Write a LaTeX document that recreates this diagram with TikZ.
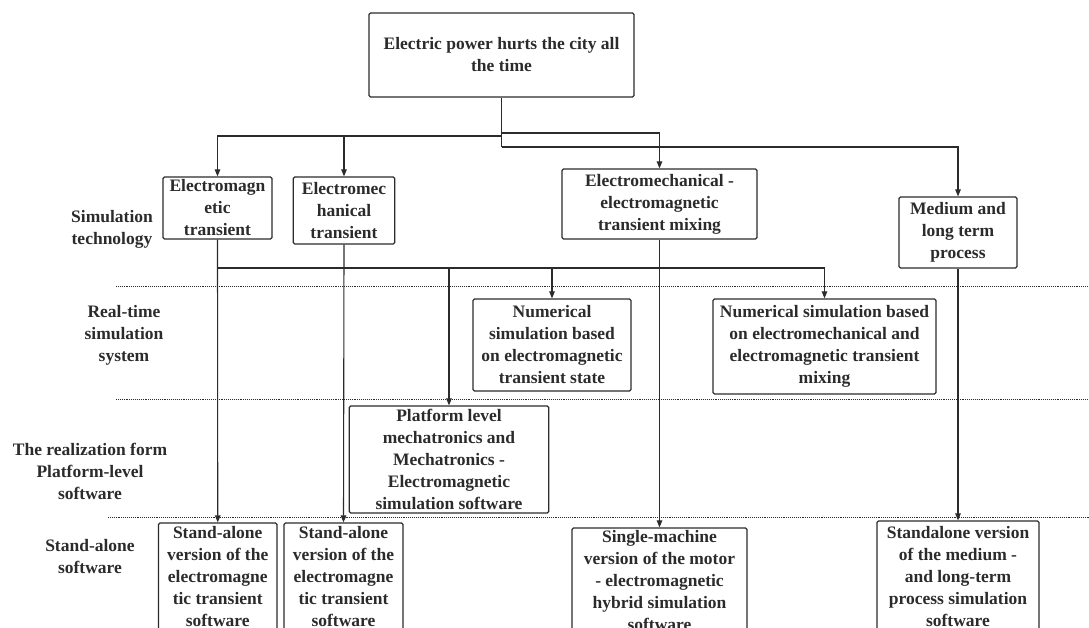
\documentclass[tikz,border=0pt]{standalone}
\usepackage{fontspec}
\setmainfont{Liberation Serif}
\usetikzlibrary{arrows.meta}
\definecolor{ink}{HTML}{2B2B2B}
\begin{document}
\begin{tikzpicture}[x=1pt,y=-1pt,
  box/.style={draw=ink, line width=1.2pt, rounded corners=1.5pt, inner sep=0pt, align=center,
    font=\bfseries\fontsize{17.5}{22}\selectfont, text=ink},
  lbl/.style={inner sep=0pt, align=center, font=\bfseries\fontsize{17.5}{22}\selectfont, text=ink},
  ln/.style={draw=ink, line width=1.1pt},
  arr/.style={ln, -{Triangle[length=7pt,width=5.5pt]}},
  sep/.style={draw=ink, line width=0.9pt, densely dotted}]
\useasboundingbox (0,0) rectangle (1089,628);
\clip (0,0) rectangle (1089,628);

% top
\node[box, minimum width=265pt, minimum height=84pt] (top) at (501.5,55) {Electric power hurts the city all\\the time};

% simulation technology
\node[box, minimum width=109pt, minimum height=62pt] (b1) at (217.5,208) {Electromagn\\etic\\transient};
\node[box, minimum width=101.5pt, minimum height=67pt] (b2) at (344,210.5) {Electromec\\hanical\\transient};
\node[box, minimum width=195pt, minimum height=70pt] (b3) at (659.5,204) {Electromechanical -\\electromagnetic\\transient mixing};
\node[box, minimum width=118pt, minimum height=71pt] (b4) at (958,232.5) {Medium and\\long term\\process};

% real-time
\node[box, minimum width=158pt, minimum height=92pt] (n1) at (552,345) {Numerical\\simulation based\\on electromagnetic\\transient state};
\node[box, minimum width=223pt, minimum height=95pt] (n2) at (824.5,346.5) {Numerical simulation based\\on electromechanical and\\electromagnetic transient\\mixing};

% platform
\node[box, minimum width=199.5pt, minimum height=107pt] (p) at (449,459.5) {Platform level\\mechatronics and\\Mechatronics -\\Electromagnetic\\simulation software};

% stand-alone
\node[box, minimum width=118.5pt, minimum height=107pt] (s1) at (217.75,576.5) {Stand-alone\\version of the\\electromagne\\tic transient\\software};
\node[box, minimum width=119pt, minimum height=107pt] (s2) at (343.5,576.5) {Stand-alone\\version of the\\electromagne\\tic transient\\software};
\node[box, minimum width=175pt, minimum height=106pt] (sm) at (659.5,581) {Single-machine\\version of the motor\\- electromagnetic\\hybrid simulation\\software};
\node[box, minimum width=162pt, minimum height=111pt] (sv) at (958,576.5) {Standalone version\\of the medium -\\and long-term\\process simulation\\software};

% row labels
\node[lbl] (l1) at (112,229) {Simulation\\technology};
\node[lbl] (l2) at (124,335) {Real-time\\simulation\\system};
\node[lbl] (l3) at (90,471) {The realization form\\Platform-level\\software};
\node[lbl] (l4) at (90,557) {Stand-alone\\software};

% separators
\draw[sep] (116,286) -- (1089,286);
\draw[sep] (116,399) -- (1089,399);
\draw[sep] (108,517) -- (1089,517);

% top connectors
\draw[ln] (top.south) -- (top.south |- 0,147);
\draw[arr] (top.south |- 0,136) -| (b1.north);
\draw[arr] (b2.north |- 0,136) -- (b2.north);
\draw[arr] (top.south |- 0,133) -| (b3.north);
\draw[arr] (top.south |- 0,147) -| (b4.north);

% down to stand-alone
\draw[arr] (b1.south) -- (s1.north);
\draw[arr] (b2.south) -- (s2.north);
\draw[arr] (b3.south) -- (sm.north);
\draw[arr] (b4.south) -- (sv.north);

% bus to real-time / platform
\draw[ln] (b1.south |- 0,268) -- (n2.north |- 0,268);
\draw[arr] (n1.north |- 0,268) -- (n1.north);
\draw[arr] (n2.north |- 0,268) -- (n2.north);
\draw[arr] (p.north |- 0,268) -- (p.north);
\end{tikzpicture}
\end{document}
